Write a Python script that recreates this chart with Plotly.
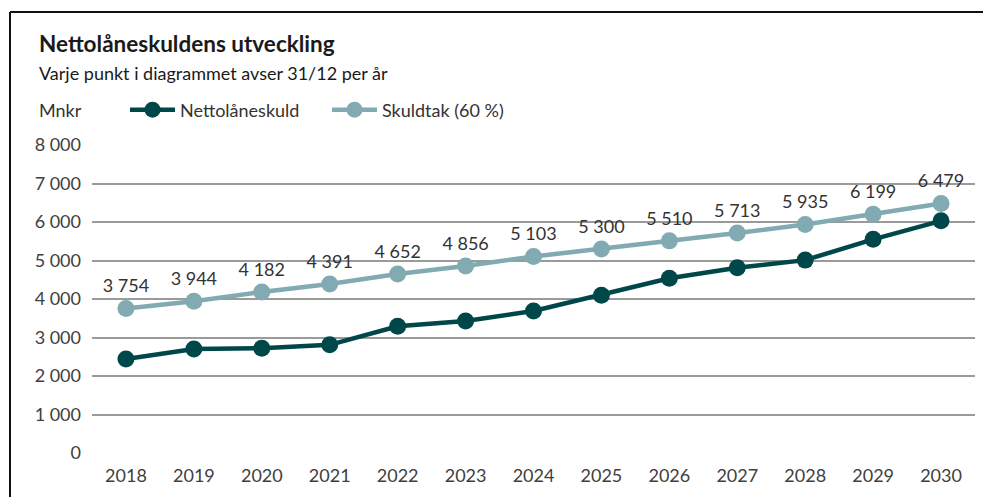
import plotly.graph_objects as go

years = [str(y) for y in range(2018, 2031)]
nettolaneskuld = [2440, 2700, 2720, 2810, 3290, 3430, 3690, 4100, 4540, 4810, 5010, 5550, 6030]
skuldtak = [3754, 3944, 4182, 4391, 4652, 4856, 5103, 5300, 5510, 5713, 5935, 6199, 6479]
y_ticks = [0, 1000, 2000, 3000, 4000, 5000, 6000, 7000, 8000]
y_tick_labels = ["0", "1 000", "2 000", "3 000", "4 000", "5 000", "6 000", "7 000", "8 000"]

OFF = 8  # page body margin
W, H = 991 - OFF, 497 - OFF
L, R, T, B = 92 - OFF, W - (975 - OFF), 145 - OFF, H - (453 - OFF)
FONT = "Lato, 'Open Sans', sans-serif"
DARK = "#00474a"
LIGHT = "#82aab2"


def px_x(x):
    return (x - OFF - L) / (W - L - R)


def px_y(y):
    return (H - B - (y - OFF)) / (H - T - B)


def fmt(v):
    return f"{v:,}".replace(",", " ")


fig = go.Figure()
fig.add_trace(go.Scatter(
    x=years, y=nettolaneskuld, name="Nettolåneskuld",
    mode="lines+markers",
    line=dict(color=DARK, width=4.5),
    marker=dict(color=DARK, size=17),
))
fig.add_trace(go.Scatter(
    x=years, y=skuldtak, name="Skuldtak (60 %)",
    mode="lines+markers+text",
    text=[fmt(v) for v in skuldtak],
    textposition="top center",
    textfont=dict(size=18, color="#333333"),
    line=dict(color=LIGHT, width=4.5),
    marker=dict(color=LIGHT, size=17),
))

fig.update_layout(
    width=W, height=H,
    margin=dict(l=L, r=R, t=T, b=B),
    plot_bgcolor="white", paper_bgcolor="white",
    font=dict(family=FONT, size=18, color="#333333"),
    showlegend=True,
    legend=dict(
        orientation="h", x=px_x(125), y=px_y(110), xanchor="left", yanchor="middle",
        font=dict(size=18, color="#333333"), itemwidth=45,
        entrywidth=142, entrywidthmode="pixels",
    ),
    xaxis=dict(
        type="category", range=[-0.5, 12.5], showgrid=False, showline=False,
        ticks="", tickfont=dict(size=18, color="#404040"), ticklabelstandoff=10,
    ),
    yaxis=dict(
        range=[0, 8000], tickvals=y_ticks, ticktext=y_tick_labels,
        showgrid=True, gridcolor="#9a9a9a", gridwidth=1.5, zeroline=False,
        ticks="", tickfont=dict(size=18, color="#404040"), ticklabelstandoff=10,
    ),
    annotations=[
        dict(text="<b>Nettolåneskuldens utveckling</b>", x=px_x(37), y=px_y(44),
             xref="paper", yref="paper", xanchor="left", yanchor="middle",
             showarrow=False, font=dict(size=22.5, color="#1a1a1a")),
        dict(text="Varje punkt i diagrammet avser 31/12 per år", x=px_x(37), y=px_y(73),
             xref="paper", yref="paper", xanchor="left", yanchor="middle",
             showarrow=False, font=dict(size=18, color="#1a1a1a")),
        dict(text="Mnkr", x=px_x(37), y=px_y(110),
             xref="paper", yref="paper", xanchor="left", yanchor="middle",
             showarrow=False, font=dict(size=18, color="#333333")),
    ],
    shapes=[
        dict(type="line", xref="paper", yref="paper",
             x0=px_x(10), x1=px_x(991), y0=px_y(12), y1=px_y(12),
             line=dict(color="#111111", width=2)),
        dict(type="line", xref="paper", yref="paper",
             x0=px_x(10), x1=px_x(10), y0=px_y(12), y1=px_y(497),
             line=dict(color="#111111", width=2)),
        dict(type="line", xref="paper", yref="y", layer="below",
             x0=0, x1=1, y0=5000, y1=5000,
             line=dict(color="#111111", width=1)),
    ],
)

fig.write_html("out.html")
